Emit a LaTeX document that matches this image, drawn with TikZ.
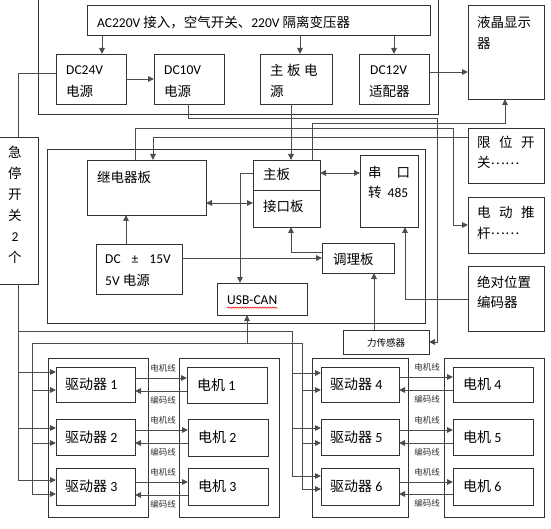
\documentclass[tikz,border=0pt]{standalone}
\usepackage{fontspec}
\setmainfont{Carlito}
\newfontfamily\cjk{Noto Sans CJK SC}
\usetikzlibrary{arrows.meta,fit,decorations.pathmorphing}
\begin{document}
\begin{tikzpicture}[x=1pt,y=-1pt,
  box/.style={draw=black!80, line width=0.9pt, inner sep=0pt, outer sep=0pt},
  frame/.style={draw=black!80, line width=0.9pt},
  wire/.style={draw=black!70, line width=0.9pt},
  arr/.style={wire, -{Triangle[length=6pt,width=5.5pt]}},
  darr/.style={wire, {Triangle[length=6pt,width=5.5pt]}-{Triangle[length=6pt,width=5.5pt]}},
  txt/.style={anchor=west, inner sep=0pt, font=\fontsize{13.5}{16}\selectfont},
  big/.style={anchor=west, inner sep=0pt, font=\fontsize{14}{16}\selectfont},
  tiny/.style={inner sep=0pt, font=\cjk\fontsize{8.5}{10}\selectfont, text=black!80},
]
\useasboundingbox (0,0) rectangle (551,529);
\clip (0,0) rectangle (551,529);

% ---------- top power section ----------
\draw[frame] (38,-5) -- (38,114) -- (438,114) -- (438,-5);
\node[box, fit={(87,5) (430,35)}] (ac) {};
\node[box, fit={(56,54) (126,104)}] (dc24) {};
\node[box, fit={(154,54) (224,104)}] (dc10) {};
\node[box, fit={(260,54) (332,104)}] (mbp) {};
\node[box, fit={(359,54) (429,104)}] (dc12) {};
\node[box, fit={(468,5) (544,99)}] (lcd) {};
\node[box, fit={(468,128) (544,183)}] (lim) {};
\node[box, fit={(468,197) (544,253)}] (push) {};
\node[box, fit={(468,266) (544,331)}] (enc) {};
\node[box, fit={(-2,137) (38,284)}] (estop) {};

\node[txt] at (97,22.5) {AC220V {\cjk 接入，空气开关、}220V {\cjk 隔离变压器}};
\node[txt] at (66,70) {DC24V};
\node[txt] at (66,91) {\cjk 电源};
\node[txt] at (164,70) {DC10V};
\node[txt] at (164,91) {\cjk 电源};
\node[txt] at (270,70) {\cjk 主\hspace{3.5pt}板\hspace{3.5pt}电};
\node[txt] at (270,91) {\cjk 源};
\node[txt] at (370,70) {DC12V};
\node[txt] at (369,91) {\cjk 适配器};
\node[txt] at (477,22.5) {\cjk 液晶显示};
\node[txt] at (477,44) {\cjk 器};
\node[txt] at (477,142.5) {\cjk 限\hspace{8.5pt}位\hspace{8.5pt}开};
\node[txt] at (477,162.5) {\cjk 关\raisebox{3.5pt}{……}};
\node[txt] at (477,212) {\cjk 电\hspace{8.5pt}动\hspace{8.5pt}推};
\node[txt] at (477,233) {\cjk 杆\raisebox{3.5pt}{……}};
\node[txt] at (477,282) {\cjk 绝对位置};
\node[txt] at (477,302) {\cjk 编码器};
\node[anchor=north, align=center, inner sep=0pt, font=\fontsize{13.5}{21}\selectfont] (estopt) at (15,146)
  {{\cjk 急}\\{\cjk 停}\\{\cjk 开}\\{\cjk 关}\\2\\{\cjk 个}};

% ---------- control section ----------
\node[box, fit={(47,149) (425,323)}] (ctrl) {};
\node[box, fit={(87,160) (206,215)}] (relay) {};
\node[box, fit={(253,160) (320,227)}] (mb) {};
\draw[frame] (mb.west |- 0,190) -- (mb.east |- 0,190);
\node[box, fit={(360,155) (418,227)}] (ser) {};
\node[box, fit={(96,244) (182,294)}] (psu) {};
\node[box, fit={(322,243) (394,273)}] (cond) {};
\node[box, fit={(217,283) (307,315)}] (usb) {};
\node[box, fit={(343,330) (429,354)}] (force) {};

\node[txt] at (97,177) {\cjk 继电器板};
\node[txt] at (263,174) {\cjk 主板};
\node[txt] at (263,206) {\cjk 接口板};
\node[txt] at (368,172) {\cjk 串\hspace{15pt}口};
\node[txt] at (368,192) {{\cjk 转}\hspace{6pt}485};
\node[txt] at (105,259) {DC\hspace{11pt}±\hspace{11pt}15V};
\node[txt] at (105,280) {5V {\cjk 电源}};
\node[txt] at (333,259) {\cjk 调理板};
\node[txt] (usbt) at (227,300) {USB-CAN};
\draw[red, line width=0.5pt, decorate, decoration={snake, amplitude=0.7pt, segment length=2.5pt}]
  ([yshift=-3pt]usbt.south west) -- ([yshift=-3pt]usbt.south east);
\node[inner sep=0pt, font=\cjk\fontsize{9.5}{11}\selectfont] at (386,342.5) {力传感器};

% ---------- drive section ----------
\node[box, fit={(48,358) (148,517)}] (grpDL) {};
\node[box, fit={(179,358) (279,517)}] (grpML) {};
\node[box, fit={(312,358) (408,517)}] (grpDR) {};
\node[box, fit={(444,358) (544,517)}] (grpMR) {};
\node[box, fit={(56,367) (135,402)}] (d1) {};
\node[box, fit={(56,419) (135,455)}] (d2) {};
\node[box, fit={(56,468) (135,505)}] (d3) {};
\node[box, fit={(187,367) (267,403)}] (m1) {};
\node[box, fit={(188,419) (268,456)}] (m2) {};
\node[box, fit={(188,468) (268,505)}] (m3) {};
\node[box, fit={(321,367) (399,402)}] (d4) {};
\node[box, fit={(321,419) (399,455)}] (d5) {};
\node[box, fit={(321,468) (399,505)}] (d6) {};
\node[box, fit={(453,367) (533,402)}] (m4) {};
\node[box, fit={(453,419) (533,455)}] (m5) {};
\node[box, fit={(453,468) (533,505)}] (m6) {};

\foreach \d/\n in {d1/1,d2/2,d3/3}{
  \node[big] at ([xshift=9pt]\d.west) {{\cjk 驱动器} \n};}
\foreach \d/\n in {d4/4,d5/5,d6/6}{
  \node[big] at ([xshift=9pt]\d.west) {{\cjk 驱动器} \n};}
\foreach \m/\n in {m1/1,m2/2,m3/3,m4/4,m5/5,m6/6}{
  \node[big] at ([xshift=10pt]\m.west) {{\cjk 电机} \n};}

% ---------- connectors: top ----------
\coordinate (xa) at (102,0);
\coordinate (xb) at (300,0);
\draw[arr] (ac.south -| xa) -- (dc24.north -| xa);
\draw[arr] (ac.south -| xb) -- (mbp.north -| xb);
\draw[arr] (ac.south -| dc12.north) -- (dc12.north);
\draw[arr] (dc24.east) -- (dc10.west);
\coordinate (ya) at (0,72);
\draw[arr] (dc12.east |- ya) -- (lcd.west |- ya);
\coordinate (es1) at (18,73);
\draw[wire] (estop.north) -- (estop.north |- es1) -- (dc24.west |- es1);

% DC10V -> force sensor
\coordinate (k1) at (188,118);
\coordinate (k2) at (437,118);
\draw[arr] (dc10.south -| k1) -- (k1) -- (k2) |- (force.east);
% main board power -> main board
\coordinate (k3) at (291,0);
\draw[arr] (mbp.south -| k3) -- (mb.north -| k3);
% main board -> LCD
\coordinate (k4) at (312,123);
\coordinate (k5) at (505,123);
\draw[arr] (mb.north -| k4) -- (k4) -- (k5) -- (lcd.south -| k5);
% relay -> push rod
\coordinate (k6) at (135,128);
\coordinate (k7) at (453,128);
\draw[arr] (relay.north -| k6) -- (k6) -- (k7) |- (push.west);
% limit switch -> relay
\coordinate (k8) at (153,137);
\draw[arr] (lim.west |- k8) -- (k8) -- (relay.north -| k8);
% main board <-> serial
\coordinate (y173) at (0,173);
\draw[darr] (mb.east |- y173) -- (ser.west |- y173);
% relay <-> interface board
\coordinate (y203) at (0,203);
\draw[darr] (relay.east |- y203) -- (mb.west |- y203);
% psu -> relay
\coordinate (k9) at (126,0);
\draw[arr] (psu.north -| k9) -- (relay.south -| k9);
% psu -> conditioning
\coordinate (y258) at (0,258);
\draw[arr] (psu.east |- y258) -- (cond.west |- y258);
% conditioning -> interface
\coordinate (k10) at (291,252);
\draw[arr] (cond.west |- k10) -- (k10) -- (mb.south -| k10);
% force -> conditioning
\coordinate (k11) at (374,0);
\draw[arr] (force.north -| k11) -- (cond.south -| k11);
% encoder -> serial
\coordinate (k12) at (405,299);
\draw[arr] (enc.west |- k12) -- (k12) -- (ser.south -| k12);
% main board -> USB-CAN
\coordinate (k13) at (240,173);
\draw[arr] (mb.west |- k13) -- (k13) -- (usb.north -| k13);

% ---------- connectors: drives ----------
\coordinate (f0) at (18,331);
\coordinate (f1) at (292,331);
\coordinate (g0) at (32,343);
\coordinate (g1) at (302,343);
\coordinate (gu) at (247,343);
\draw[wire] (estop.south) -- (estop.south |- 0,480);
\draw[wire] (f0) -- (f1) -- (f1 |- 0,476);
\draw[wire] (g0 |- 0,494) -- (g0) -- (g1) -- (g1 |- 0,489);
\draw[arr] (gu) -- (usb.south -| gu);
\foreach \d/\ya/\yb in {d1/372/390, d2/428/443, d3/480/494}{
  \draw[arr] (f0 |- 0,\ya) -- (\d.west |- 0,\ya);
  \draw[arr] (g0 |- 0,\yb) -- (\d.west |- 0,\yb);}
\foreach \d/\ya/\yb in {d4/373/390, d5/428/443, d6/476/489}{
  \draw[arr] (f1 |- 0,\ya) -- (\d.west |- 0,\ya);
  \draw[arr] (g1 |- 0,\yb) -- (\d.west |- 0,\yb);}
\foreach \d/\m/\ya/\yb/\lx in {d1/m1/378/391/163, d2/m2/430/443/163, d3/m3/482/495/163,
                               d4/m4/377/390/427, d5/m5/430/443/427, d6/m6/482/494/427}{
  \draw[arr] (\d.east |- 0,\ya) -- (\m.west |- 0,\ya);
  \draw[arr] (\m.west |- 0,\yb) -- (\d.east |- 0,\yb);
  \node[tiny] at (\lx,{\ya-9.5}) {电机线};
  \node[tiny] at (\lx,{\yb+9.5}) {编码线};}
\end{tikzpicture}
\end{document}
